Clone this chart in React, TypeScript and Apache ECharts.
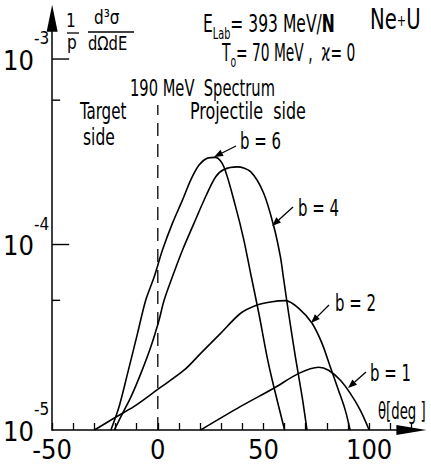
import React, { useEffect, useRef } from "react";
import * as echarts from "echarts";

const FONT = "'DejaVu Sans Condensed', 'Liberation Sans Narrow', 'DejaVu Sans', sans-serif";

// Axis settings
const X_MIN = -50;
const X_MAX = 120;
const X_STEP = 10;
const xLabelValues = [-50, 0, 50, 100];
const Y_MIN = 1e-5;
const Y_MAX = 1.66e-3;
const yMajorTicks = [1e-4, 1e-3];
const yMinorTicks = [5e-5, 6e-4];

// 190 MeV spectrum marker at theta = 0
const dashTheta = [0, 0];
const dashValue = [1e-5, 5.65e-4];

// Curves: theta [deg] and (1/p) d3sigma/dOmega dE
const b6Theta = [-22.2, -18.3, -14.3, -9.6, -5.7, -1.7, 2.2, 6.9, 11.7, 15.6, 19.5, 23.4, 27.4, 31.3, 36.8, 40.7, 43.9, 47.8, 51.7, 54.9, 60.0];
const b6Value = [1e-5, 1.34e-5, 2.02e-5, 3.32e-5, 5.02e-5, 6.7e-5, 9.34e-5, 1.3e-4, 1.74e-4, 2.23e-4, 2.68e-4, 2.92e-4, 2.95e-4, 2.62e-4, 1.6e-4, 1.06e-4, 7.0e-5, 4.26e-5, 2.48e-5, 1.71e-5, 1e-5];

const b4Theta = [-20.6, -16.7, -12.7, -8.0, -3.3, 0.6, 3.0, 6.9, 11.7, 17.1, 22.6, 27.4, 31.3, 37.6, 43.9, 50.1, 54.9, 58.0, 59.6, 61.9, 65.1, 68.3, 70.6];
const b4Value = [1e-5, 1.23e-5, 1.51e-5, 2.02e-5, 2.81e-5, 3.92e-5, 5.02e-5, 6.7e-5, 9.34e-5, 1.3e-4, 1.81e-4, 2.32e-4, 2.54e-4, 2.62e-4, 2.47e-4, 1.89e-4, 1.25e-4, 8.6e-5, 6.44e-5, 4.26e-5, 2.48e-5, 1.51e-5, 1e-5];

const b2Theta = [-30.0, -20.6, -11.2, 0.1, 12.4, 20.3, 29.7, 39.2, 47.0, 53.3, 60.4, 66.7, 73.0, 77.7, 81.6, 85.5, 88.7, 91.0];
const b2Value = [1e-5, 1.16e-5, 1.34e-5, 1.66e-5, 2.1e-5, 2.59e-5, 3.32e-5, 4.26e-5, 4.72e-5, 4.9e-5, 4.98e-5, 4.53e-5, 3.76e-5, 2.93e-5, 2.19e-5, 1.64e-5, 1.28e-5, 1e-5];

const b1Theta = [20.3, 39.2, 54.9, 66.7, 76.1, 80.8, 86.3, 91.0, 95.8, 100.0];
const b1Value = [1e-5, 1.34e-5, 1.68e-5, 2.02e-5, 2.18e-5, 2.1e-5, 1.86e-5, 1.58e-5, 1.28e-5, 1e-5];

const pairs = (xs: number[], ys: number[]) => xs.map((x, i) => [x, ys[i]]);

function arrow(from: number[], to: number[]) {
  const dx = to[0] - from[0];
  const dy = to[1] - from[1];
  const len = Math.sqrt(dx * dx + dy * dy);
  const ux = dx / len;
  const uy = dy / len;
  const hl = 9;
  const hw = 3.5;
  const bx = to[0] - ux * hl;
  const by = to[1] - uy * hl;
  return [
    {
      type: "line",
      shape: { x1: from[0], y1: from[1], x2: bx, y2: by },
      style: { stroke: "#000", lineWidth: 1.3 },
    },
    {
      type: "polygon",
      shape: {
        points: [
          [to[0], to[1]],
          [bx - uy * hw, by + ux * hw],
          [bx + uy * hw, by - ux * hw],
        ],
      },
      style: { fill: "#000" },
    },
  ];
}

function txt(text: string, x: number, y: number, fontSize: number, scaleX: number, rich?: any) {
  return {
    type: "text",
    x,
    y,
    scaleX,
    style: {
      text,
      fontSize,
      fontFamily: FONT,
      fill: "#000",
      textAlign: "left",
      textVerticalAlign: "middle",
      rich,
    },
  };
}

export default function App() {
  const ref = useRef<HTMLDivElement>(null);
  useEffect(() => {
    document.body.style.margin = "0";
    if (!ref.current) return;
    const chart = echarts.init(ref.current, undefined, { renderer: "svg" });

    const curveStyle = { color: "#000", width: 1.6 };
    const mkCurve = (name: string, xs: number[], ys: number[]) => ({
      name,
      type: "line",
      data: pairs(xs, ys),
      smooth: 0.3,
      symbol: "none",
      lineStyle: curveStyle,
      itemStyle: { color: "#000" },
      silent: true,
      z: 2,
    });
    const mkTicks = (vals: number[], len: number) => ({
      type: "custom",
      coordinateSystem: "cartesian2d",
      data: vals.map((v) => [X_MIN, v]),
      silent: true,
      z: 4,
      renderItem: (_p: any, api: any) => {
        const pt = api.coord([api.value(0), api.value(1)]);
        return {
          type: "line",
          shape: { x1: pt[0], y1: pt[1], x2: pt[0] + len, y2: pt[1] },
          style: { stroke: "#000", lineWidth: 1.4 },
        };
      },
    });

    const graphics: any[] = [
      txt("1", 66, 20, 20, 0.85),
      { type: "line", shape: { x1: 67, y1: 33, x2: 79, y2: 33 }, style: { stroke: "#000", lineWidth: 1.3 } },
      txt("p", 67, 42, 20, 0.85),
      txt("d³σ", 94, 17, 20, 0.85),
      { type: "line", shape: { x1: 88, y1: 32, x2: 134, y2: 32 }, style: { stroke: "#000", lineWidth: 1.3 } },
      txt("dΩdE", 88, 43, 20, 0.82),
      txt("{m|E}{s|Lab}{m|= 393 MeV/}{n|N}", 203, 24, 24, 0.72, {
        m: { fontSize: 24, fontFamily: FONT, lineHeight: 34, verticalAlign: "middle" },
        s: { fontSize: 15, fontFamily: FONT, lineHeight: 34, verticalAlign: "bottom" },
        n: { fontSize: 24, fontFamily: FONT, fontWeight: "bold", lineHeight: 34, verticalAlign: "middle" },
      }),
      txt("{m|Ne}{p|+}{m|U}", 370, 20, 28, 0.78, {
        m: { fontSize: 28, fontFamily: FONT },
        p: { fontSize: 16, fontFamily: FONT },
      }),
      txt("{m|T}{s|o}{m|= 70 MeV ,  ϰ= 0}", 222, 53, 24, 0.64, {
        m: { fontSize: 24, fontFamily: FONT, lineHeight: 34, verticalAlign: "middle" },
        s: { fontSize: 16, fontFamily: FONT, lineHeight: 34, verticalAlign: "bottom" },
      }),
      txt("190 MeV  Spectrum", 130, 88, 23, 0.71),
      txt("Target", 80, 111, 23, 0.73),
      txt("side", 83, 137, 23, 0.75),
      txt("Projectile  side", 190, 111, 23, 0.77),
      txt("b = 6", 240, 141, 23, 0.72),
      txt("b = 4", 298, 208, 23, 0.72),
      txt("b = 2", 335, 303, 23, 0.72),
      txt("b = 1", 370, 373, 23, 0.72),
      txt("θ[deg ]", 378, 411, 23, 0.64),
      ...arrow([236, 146], [214, 157]),
      ...arrow([293, 207], [272, 226]),
      ...arrow([329, 305], [311, 323]),
      ...arrow([366, 372], [348, 388]),
    ];

    chart.setOption({
      animation: false,
      backgroundColor: "#fff",
      grid: { left: 51, right: 19.6, top: 18.2, bottom: 38 },
      xAxis: {
        type: "value",
        min: X_MIN,
        max: X_MAX,
        interval: X_STEP,
        axisLine: {
          show: true,
          onZero: false,
          lineStyle: { color: "#000", width: 1.5 },
          symbol: ["none", "triangle"],
          symbolSize: [10, 30],
        },
        axisTick: { show: true, inside: true, length: 7, lineStyle: { color: "#000", width: 1.3 } },
        axisLabel: {
          formatter: (v: number) => (xLabelValues.indexOf(v) >= 0 ? String(v) : ""),
          fontSize: 27,
          fontFamily: FONT,
          color: "#000",
          margin: 6,
        },
        splitLine: { show: false },
      },
      yAxis: {
        type: "log",
        logBase: 10,
        min: Y_MIN,
        max: Y_MAX,
        axisLine: {
          show: true,
          onZero: false,
          lineStyle: { color: "#000", width: 1.5 },
          symbol: ["none", "triangle"],
          symbolSize: [11, 27],
        },
        axisTick: { show: false },
        splitLine: { show: false },
        axisLabel: {
          margin: 3,
          padding: [0, 0, 15, 0],
          formatter: (v: number) => {
            const e = Math.log10(v);
            const r = Math.round(e);
            if (Math.abs(e - r) > 1e-6) return "";
            return "{b|10}{s|" + String(r) + "}";
          },
          rich: {
            b: { fontSize: 27, fontFamily: FONT, color: "#000", verticalAlign: "bottom", lineHeight: 30 },
            s: { fontSize: 17, fontFamily: FONT, color: "#000", verticalAlign: "top", lineHeight: 44 },
          },
        },
      },
      graphic: graphics,
      series: [
        mkCurve("b=6", b6Theta, b6Value),
        mkCurve("b=4", b4Theta, b4Value),
        mkCurve("b=2", b2Theta, b2Value),
        mkCurve("b=1", b1Theta, b1Value),
        {
          name: "190 MeV",
          type: "line",
          data: pairs(dashTheta, dashValue),
          symbol: "none",
          lineStyle: { color: "#000", width: 1.3, type: [13, 8] },
          silent: true,
          z: 1,
        },
        mkTicks(yMajorTicks, 17),
        mkTicks(yMinorTicks, 8),
      ],
    });
    return () => chart.dispose();
  }, []);
  return <div ref={ref} style={{ width: 431, height: 468 }} />;
}
